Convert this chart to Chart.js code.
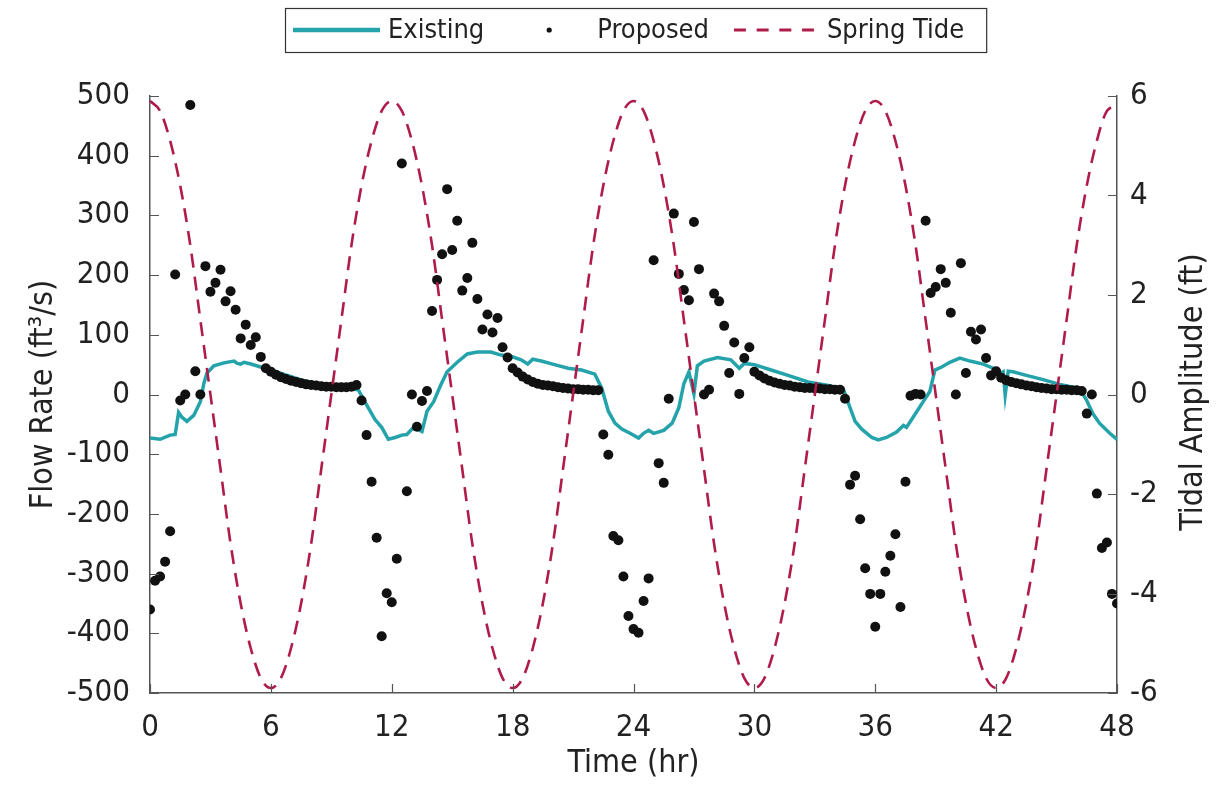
<!DOCTYPE html>
<html>
<head>
<meta charset="utf-8">
<title>Flow Rate vs Spring Tide</title>
<script src="https://cdn.jsdelivr.net/npm/chart.js@4.4.0/dist/chart.umd.min.js"></script>
<style>
  html, body { margin: 0; padding: 0; background: #fff; }
  #wrap { width: 1219px; height: 789px; position: relative; }
</style>
</head>
<body>
<div id="wrap"><canvas id="flowChart"></canvas></div>
<script>
// --- tick labels ---
const TIME_TICKS = [0, 6, 12, 18, 24, 30, 36, 42, 48];
const FLOW_TICKS = [-500, -400, -300, -200, -100, 0, 100, 200, 300, 400, 500];
const TIDE_TICKS = [-6, -4, -2, 0, 2, 4, 6];

// --- Existing flow (ft3/s) ---
const EXISTING_T = [
  0, 0.5, 1.0, 1.25, 1.42, 1.58, 1.83, 2.17, 2.5, 2.67,
  2.83, 3.17, 3.67, 4.17, 4.33, 4.5, 4.67, 5.0, 5.5, 6.17,
  7.0, 7.83, 8.67, 9.5, 10.33, 10.5, 10.83, 11.17, 11.5, 11.83,
  12.17, 12.5, 12.75, 13.08, 13.5, 13.75, 14.08, 14.42, 14.75, 15.25,
  15.75, 16.25, 16.92, 17.42, 17.92, 18.42, 18.75, 19.0, 19.42, 20.08,
  20.75, 21.42, 22.08, 22.42, 22.75, 23.08, 23.42, 23.83, 24.25, 24.5,
  24.75, 25.0, 25.5, 25.92, 26.25, 26.5, 26.75, 27.0, 27.17, 27.5,
  28.17, 28.83, 29.25, 29.5, 30.0, 30.83, 31.67, 32.67, 33.67, 34.42,
  34.67, 35.0, 35.33, 35.83, 36.15, 36.56, 37.06, 37.4, 37.55, 37.88,
  38.38, 38.71, 38.96, 39.3, 39.7, 40.2, 40.7, 41.36, 41.85, 42.18,
  42.35, 42.45, 42.6, 42.84, 43.5, 44.33, 45.16, 46.15, 46.48, 46.8,
  47.13, 47.64, 48.0
];
const EXISTING_Q = [
  -73, -75, -68, -67, -30, -38, -45, -35, -12, 18,
  36, 48, 53, 56, 52, 51, 54, 51, 46, 39,
  30, 21, 15, 11, 8, -2, -22, -42, -55, -75,
  -72, -68, -67, -55, -62, -28, -12, 15, 38, 54,
  68, 71, 71, 66, 64, 58, 51, 59, 56, 50,
  44, 41, 34, 11, -28, -48, -58, -65, -73, -65,
  -60, -65, -60, -48, -22, 18, 38, 1, 48, 56,
  62, 58, 44, 52, 50, 41, 32, 21, 15, 9,
  -15, -45, -58, -72, -76, -72, -63, -52, -55, -38,
  -12, 5, 41, 46, 54, 61, 56, 51, 44, 34,
  38, -1, 39, 38, 32, 25, 17, 10, -9, -32,
  -48, -65, -75
];

// --- Proposed flow (ft3/s), one dot every 15 min, one row per hour ---
const PROPOSED_STEP_HR = 0.25;
const PROPOSED_Q = [
  -360, -312, -305, -280,   // 0 h
  -229, 201, -10, 0,
  485, 39, 0, 215,
  172, 187, 209, 156,
  173, 142, 94, 117,
  83, 96, 63, 44,           // 5 h
  38, 33, 29, 26,
  23, 21, 19, 17,
  16, 15, 14, 13,
  13, 12, 12, 12,
  13, 16, -10, -68,         // 10 h
  -146, -240, -405, -333,
  -348, -275, 387, -162,
  0, -54, -11, 6,
  140, 192, 235, 344,
  242, 291, 174, 195,       // 15 h
  254, 160, 109, 134,
  104, 128, 79, 62,
  44, 37, 30, 25,
  21, 18, 16, 15,
  14, 12, 11, 10,           // 20 h
  9, 9, 8, 8,
  7, 7, -67, -101,
  -237, -244, -305, -371,
  -393, -399, -346, -308,
  225, -115, -148, -7,      // 25 h
  303, 202, 175, 158,
  289, 210, 0, 8,
  169, 156, 115, 36,
  87, 1, 61, 79,
  38, 32, 27, 23,           // 30 h
  20, 18, 16, 15,
  13, 12, 11, 11,
  10, 10, 9, 9,
  8, 8, -7, -151,
  -136, -209, -291, -334,   // 35 h
  -389, -334, -297, -270,
  -234, -356, -146, -2,
  1, 0, 291, 170,
  180, 210, 187, 137,
  0, 220, 36, 105,          // 40 h
  92, 109, 61, 32,
  39, 28, 24, 21,
  19, 17, 15, 14,
  12, 11, 10, 9,
  9, 8, 8, 7,               // 45 h
  7, 6, -32, 0,
  -166, -257, -248, -334,
  -350                      // 48 h
];

// --- Spring tide (ft), every 30 min, one row per 12 h ---
const TIDE_STEP_HR = 0.5;
const TIDE_FT = [
  5.9, 5.7, 5.1, 4.2, 3.0, 1.5, 0.0, -1.5, -3.0, -4.2, -5.1, -5.7,
  -5.9, -5.7, -5.1, -4.2, -3.0, -1.5, 0.0, 1.5, 3.0, 4.2, 5.1, 5.7,
  5.9, 5.7, 5.1, 4.2, 3.0, 1.5, 0.0, -1.5, -3.0, -4.2, -5.1, -5.7,
  -5.9, -5.7, -5.1, -4.2, -3.0, -1.5, 0.0, 1.5, 3.0, 4.2, 5.1, 5.7,
  5.9, 5.7, 5.1, 4.2, 3.0, 1.5, 0.0, -1.5, -3.0, -4.2, -5.1, -5.7,
  -5.9, -5.7, -5.1, -4.2, -3.0, -1.5, 0.0, 1.5, 3.0, 4.2, 5.1, 5.7,
  5.9, 5.7, 5.1, 4.2, 3.0, 1.5, 0.0, -1.5, -3.0, -4.2, -5.1, -5.7,
  -5.9, -5.7, -5.1, -4.2, -3.0, -1.5, 0.0, 1.5, 3.0, 4.2, 5.1, 5.7,
  5.8
];

// Style
const FONT = "'DejaVu Sans Condensed', 'Liberation Sans Narrow', 'Arial Narrow', sans-serif";
const TEXT_COLOR = '#222';
const AXIS_COLOR = '#555';
const COLORS = { existing: '#24a3ab', proposed: '#111111', tide: '#b01c4a' };
const TICK_LEN = 9;
const TITLE_SIZE = 32;

const toPoints = (ts, vs) => vs.map((v, i) => ({ x: ts[i], y: v }));
const stepPoints = (step, vs) => vs.map((v, i) => ({ x: i * step, y: v }));

// inward tick marks + right axis title (reads bottom to top)
const axisExtras = {
  id: 'axisExtras',
  afterDraw(chart) {
    const { ctx, chartArea: a, scales } = chart;
    ctx.save();
    ctx.strokeStyle = AXIS_COLOR;
    ctx.lineWidth = 1.2;
    ctx.beginPath();
    scales.x.ticks.forEach(t => {
      const px = Math.round(scales.x.getPixelForValue(t.value)) + 0.5;
      ctx.moveTo(px, a.bottom); ctx.lineTo(px, a.bottom - TICK_LEN);
    });
    scales.y.ticks.forEach(t => {
      const py = Math.round(scales.y.getPixelForValue(t.value)) + 0.5;
      ctx.moveTo(a.left, py); ctx.lineTo(a.left + TICK_LEN, py);
    });
    scales.y2.ticks.forEach(t => {
      const py = Math.round(scales.y2.getPixelForValue(t.value)) + 0.5;
      ctx.moveTo(a.right, py); ctx.lineTo(a.right - TICK_LEN, py);
    });
    ctx.stroke();

    ctx.fillStyle = TEXT_COLOR;
    ctx.font = `${TITLE_SIZE}px ${FONT}`;
    ctx.textAlign = 'center';
    ctx.textBaseline = 'middle';
    ctx.translate(1194, 392);
    ctx.rotate(-Math.PI / 2);
    ctx.fillText('Tidal Amplitude (ft)', 0, 0);
    ctx.restore();
  }
};

// boxed legend across the top
const boxedLegend = {
  id: 'boxedLegend',
  afterDraw(chart, args, opts) {
    const ctx = chart.ctx;
    const sets = chart.data.datasets;
    ctx.save();
    ctx.font = `${opts.fontSize}px ${FONT}`;
    ctx.textBaseline = 'middle';
    ctx.textAlign = 'left';
    let x = opts.left;
    const y = opts.centerY;
    sets.forEach((d, i) => {
      const it = opts.items[i];
      const sx = x + it.lead, ex = sx + it.sample;
      if (d.showLine === false) {
        ctx.fillStyle = d.pointBackgroundColor;
        ctx.beginPath();
        ctx.arc((sx + ex) / 2, y, 2.6, 0, Math.PI * 2);
        ctx.fill();
      } else {
        ctx.strokeStyle = d.borderColor;
        ctx.lineWidth = it.lineWidth || d.borderWidth;
        ctx.setLineDash(it.dash || []);
        ctx.beginPath();
        ctx.moveTo(sx, y); ctx.lineTo(ex, y);
        ctx.stroke();
        ctx.setLineDash([]);
      }
      ctx.fillStyle = TEXT_COLOR;
      ctx.fillText(d.label, ex + it.gap, y + 1);
      x = ex + it.gap + ctx.measureText(d.label).width;
    });
    ctx.strokeStyle = '#333';
    ctx.lineWidth = 1.2;
    const bx = opts.left - opts.padLeft;
    ctx.strokeRect(bx + 0.5, y - opts.height / 2 + 0.5, x + opts.padRight - bx, opts.height);
    ctx.restore();
  }
};

const tickFont = { family: FONT, size: 31 };
const titleFont = { family: FONT, size: TITLE_SIZE };

new Chart(document.getElementById('flowChart'), {
  type: 'line',
  data: {
    datasets: [
      {
        label: 'Existing',
        data: toPoints(EXISTING_T, EXISTING_Q),
        borderColor: COLORS.existing,
        backgroundColor: COLORS.existing,
        borderWidth: 3.5,
        pointRadius: 0,
        tension: 0,
        yAxisID: 'y',
        order: 2,
      },
      {
        label: 'Proposed',
        data: stepPoints(PROPOSED_STEP_HR, PROPOSED_Q),
        showLine: false,
        pointRadius: 5,
        pointBackgroundColor: COLORS.proposed,
        pointBorderWidth: 0,
        yAxisID: 'y',
        order: 1,
      },
      {
        label: 'Spring Tide',
        data: stepPoints(TIDE_STEP_HR, TIDE_FT),
        borderColor: COLORS.tide,
        backgroundColor: COLORS.tide,
        borderWidth: 2.6,
        borderDash: [14, 9],
        pointRadius: 0,
        cubicInterpolationMode: 'monotone',
        yAxisID: 'y2',
        order: 0,
      }
    ]
  },
  options: {
    responsive: true,
    maintainAspectRatio: false,
    animation: false,
    layout: { padding: { top: 96, left: 0, right: 0, bottom: 0 } },
    plugins: {
      legend: { display: false },
      tooltip: { enabled: false },
      boxedLegend: {
        left: 293, centerY: 30, fontSize: 27, height: 44, padLeft: 8, padRight: 22,
        items: [
          { lead: 0, sample: 87, gap: 8, lineWidth: 4.5 },
          { lead: 60, sample: 10, gap: 43 },
          { lead: 25, sample: 80, gap: 13, lineWidth: 3, dash: [12, 10.7] }
        ]
      },
    },
    scales: {
      x: {
        type: 'linear',
        min: 0, max: 48,
        afterBuildTicks: s => { s.ticks = TIME_TICKS.map(v => ({ value: v })); },
        afterFit: s => { s.height = 96; },
        ticks: { color: TEXT_COLOR, font: tickFont, padding: 16, maxRotation: 0 },
        grid: { display: false, drawTicks: false },
        border: { color: AXIS_COLOR, width: 1.5 },
        title: { display: true, text: 'Time (hr)', color: TEXT_COLOR, font: titleFont, padding: { top: 0, bottom: 6 } },
      },
      y: {
        position: 'left',
        min: -500, max: 500,
        afterBuildTicks: s => { s.ticks = FLOW_TICKS.map(v => ({ value: v })); },
        afterFit: s => { s.width = 150; },
        ticks: { color: TEXT_COLOR, font: tickFont, padding: 20 },
        grid: { display: false, drawTicks: false },
        border: { color: AXIS_COLOR, width: 1.5 },
        title: { display: true, text: 'Flow Rate (ft³/s)', color: TEXT_COLOR, font: titleFont, padding: { top: 24, bottom: 0 } },
      },
      y2: {
        position: 'right',
        min: -6, max: 6,
        afterBuildTicks: s => { s.ticks = TIDE_TICKS.map(v => ({ value: v })); },
        afterFit: s => { s.width = 102; },
        ticks: { color: TEXT_COLOR, font: tickFont, padding: 13 },
        grid: { display: false, drawTicks: false },
        border: { color: AXIS_COLOR, width: 1.5 },
      }
    }
  },
  plugins: [axisExtras, boxedLegend]
});
</script>
</body>
</html>
